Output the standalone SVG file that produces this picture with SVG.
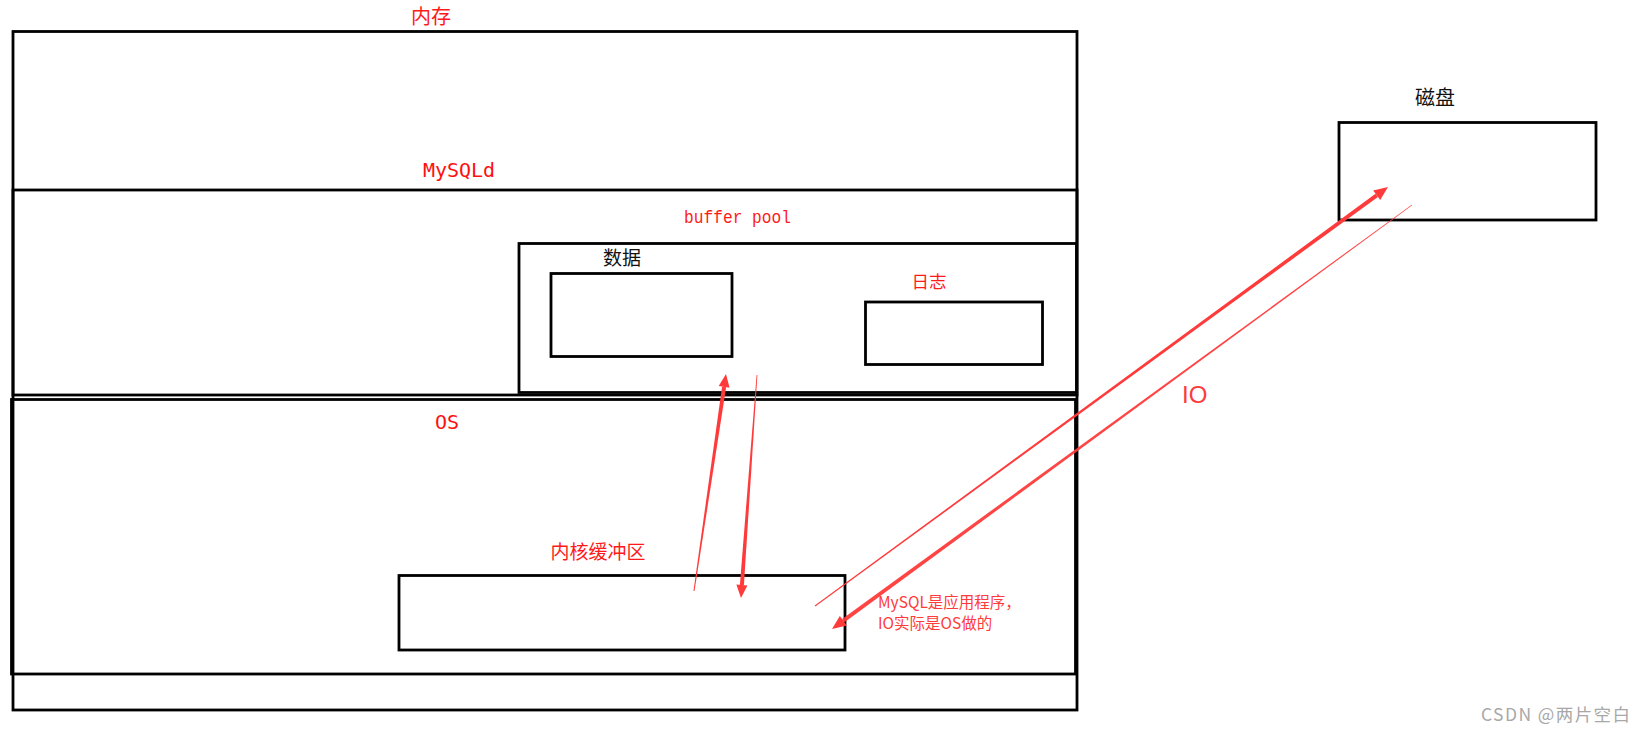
<svg xmlns="http://www.w3.org/2000/svg" width="1644" height="732" viewBox="0 0 1644 732">
<style>
.box{fill:none;stroke:#000;stroke-width:2.8}
.kai{font-family:"Noto Sans CJK SC",sans-serif;font-size:19px;text-anchor:middle}
.mono{font-family:"DejaVu Sans Mono",monospace;font-size:20px;fill:#ff1010;text-anchor:middle}
.red{fill:#ff1a1a}
.blk{fill:#111}
.arr{fill:#ff3a3a;stroke:none}
.note{font-family:"Noto Sans CJK SC",sans-serif;font-size:15.5px;fill:#ff3a3a}
</style>
<rect width="1644" height="732" fill="#fff"/>
<g id="memory">
<rect class="box" x="13" y="31.5" width="1064" height="678.5"/>
<text class="kai red" x="431" y="24" style="font-size:20px">内存</text>
</g>
<g id="mysqld">
<rect class="box" x="13" y="190" width="1064" height="205"/>
<text class="mono" x="459" y="177">MySQLd</text>
</g>
<g id="bufferpool">
<rect class="box" x="519" y="243.5" width="557.5" height="149"/>
<text x="684" y="223" textLength="107" lengthAdjust="spacingAndGlyphs" style="font-family:'Liberation Mono',monospace;font-size:18px" class="red">buffer pool</text>
</g>
<g id="data">
<rect class="box" x="551" y="273.5" width="181" height="83"/>
<text class="kai blk" x="622" y="265">数据</text>
</g>
<g id="log">
<rect class="box" x="865.5" y="302" width="177" height="62.5"/>
<text class="kai red" x="929" y="287.5" style="font-size:17.5px">日志</text>
</g>
<g id="os">
<rect class="box" x="11.5" y="399.5" width="1064" height="274.5"/>
<text class="mono" x="447" y="429">OS</text>
</g>
<g id="kernelbuffer">
<rect class="box" x="399" y="575.5" width="446" height="74.5"/>
<text class="kai red" x="598" y="558.5">内核缓冲区</text>
</g>
<g id="disk">
<rect class="box" x="1339" y="122.5" width="257" height="97.5"/>
<text class="kai blk" x="1435" y="104.5" style="font-size:20px">磁盘</text>
</g>
<g id="connectors">
<path class="arr" d="M815.3,606.4 L814.7,605.6 L1375.5,193.7 L1377.9,196.9 Z"/>
<path class="arr" d="M1388,187 L1380.2,200.1 L1373.2,190.5 Z"/>
<path class="arr" d="M1412.2,205.3 L1411.8,204.7 L842.1,619.1 L844.5,622.3 Z" opacity="0.95"/>
<path class="arr" d="M832,629 L846.8,625.5 L839.8,615.9 Z"/>
<path class="arr" d="M694.5,591.1 L693.5,590.9 L722.1,386.6 L726.1,387.2 Z"/>
<path class="arr" d="M726,374 L729.5,387.7 L718.7,386.1 Z"/>
<path class="arr" d="M757.4,375 L756.6,375 L739.9,584.9 L743.9,585.2 Z"/>
<path class="arr" d="M741,598 L747.4,585.4 L736.4,584.6 Z"/>
<text x="1182" y="403" style="font-family:'Liberation Sans',sans-serif;font-size:24px" fill="#ff3a3a">IO</text>
<text class="note" x="878" y="608">MySQL是应用程序，</text>
<text class="note" x="878" y="629">IO实际是OS做的</text>
</g>
<text x="1481" y="721" textLength="149" lengthAdjust="spacing" style="font-family:'Noto Sans CJK SC',sans-serif;font-size:17.5px" fill="#a8a8a8">CSDN @两片空白</text>
</svg>
